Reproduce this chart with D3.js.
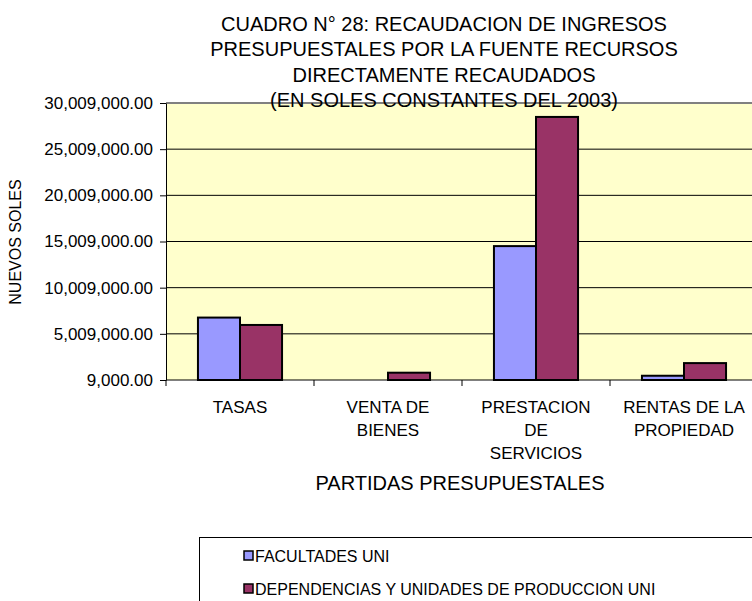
<!DOCTYPE html>
<html>
<head>
<meta charset="utf-8">
<script src="https://cdn.jsdelivr.net/npm/d3@7"></script>
<style>
  body { margin: 0; background: #fff; }
  text { font-family: Arial, "Liberation Sans", sans-serif; fill: #000; }
</style>
</head>
<body>
<div id="chart"></div>
<script>
// data
let categories = [["TASAS"], ["VENTA DE", "BIENES"], ["PRESTACION", "DE", "SERVICIOS"], ["RENTAS DE LA", "PROPIEDAD"]];
let seriesNames = ["FACULTADES UNI", "DEPENDENCIAS Y UNIDADES DE PRODUCCION UNI"];
let facultades = [6770000, 0, 14510000, 470000];
let dependencias = [5970000, 800000, 28500000, 1840000];
let yTicks = [9000, 5009000, 10009000, 15009000, 20009000, 25009000, 30009000];
let titleLines = ["CUADRO N° 28: RECAUDACION DE INGRESOS", "PRESUPUESTALES POR LA FUENTE RECURSOS", "DIRECTAMENTE RECAUDADOS", "(EN SOLES CONSTANTES DEL 2003)"];
let colors = ["#9999FF", "#993366"];

let width = 752, height = 601;
let plot = {left: 166, top: 103, right: 758, bottom: 380};

let svg = d3.select("#chart")
    .append("svg")
    .attr("width", width)
    .attr("height", height);

let x = d3.scaleBand()
    .domain(d3.range(categories.length))
    .range([plot.left, plot.right]);

let xs = d3.scaleBand()
    .domain([0, 1])
    .range([0, x.bandwidth()])
    .paddingOuter(0.76);

let y = d3.scaleLinear()
    .domain([9000, 30009000])
    .range([plot.bottom, plot.top]);

// plot background
svg.append("rect")
    .attr("x", plot.left)
    .attr("y", plot.top)
    .attr("width", plot.right - plot.left)
    .attr("height", plot.bottom - plot.top)
    .style("fill", "#FFFFCC");

// gridlines
svg.append("g")
    .selectAll("line")
    .data(yTicks.slice(1, -1))
    .enter()
    .append("line")
    .attr("x1", plot.left)
    .attr("x2", plot.right)
    .attr("y1", d => y(d))
    .attr("y2", d => y(d))
    .style("stroke", "#000")
    .style("stroke-width", 1);

// top border
svg.append("line")
    .attr("x1", plot.left)
    .attr("x2", plot.right)
    .attr("y1", plot.top)
    .attr("y2", plot.top)
    .style("stroke", "#808080")
    .style("stroke-width", 2);

// bars
let rows = [];
categories.forEach(function (c, i) {
    rows.push({cat: i, s: 0, v: facultades[i]});
    rows.push({cat: i, s: 1, v: dependencias[i]});
});

svg.append("g")
    .selectAll("rect")
    .data(rows.filter(d => d.v > y.domain()[0]))
    .enter()
    .append("rect")
    .attr("x", d => x(d.cat) + xs(d.s))
    .attr("y", d => y(d.v))
    .attr("width", xs.bandwidth())
    .attr("height", d => plot.bottom - y(d.v))
    .style("fill", d => colors[d.s])
    .style("stroke", "#000")
    .style("stroke-width", 2);

// y axis
let yAxis = d3.axisLeft(y)
    .tickValues(yTicks)
    .tickFormat(d3.format(",.2f"))
    .tickSize(6)
    .tickSizeOuter(0);

let gy = svg.append("g")
    .attr("transform", "translate(" + plot.left + ",0)")
    .call(yAxis);
gy.select(".domain").style("stroke", "#000");
gy.selectAll("text")
    .attr("x", -13)
    .style("font-size", "17px");

// x axis
let gx = svg.append("g")
    .attr("transform", "translate(0," + plot.bottom + ")");
gx.append("line")
    .attr("x1", plot.left)
    .attr("x2", plot.right)
    .style("stroke", "#000");
gx.selectAll(".tick")
    .data(d3.range(categories.length + 1))
    .enter()
    .append("line")
    .attr("x1", d => plot.left + d * x.step())
    .attr("x2", d => plot.left + d * x.step())
    .attr("y2", 6)
    .style("stroke", "#000");

let catLabels = gx.selectAll(".cat")
    .data(categories)
    .enter()
    .append("text")
    .attr("class", "cat")
    .attr("text-anchor", "middle")
    .style("font-size", "17px");
catLabels.selectAll("tspan")
    .data((d, i) => d.map(t => ({t: t, i: i})))
    .enter()
    .append("tspan")
    .attr("x", d => x(d.i) + x.bandwidth() / 2)
    .attr("y", (d, j) => 33 + j * 23)
    .text(d => d.t);

// axis titles
svg.append("text")
    .attr("x", 460)
    .attr("y", 490)
    .attr("text-anchor", "middle")
    .style("font-size", "20px")
    .text("PARTIDAS PRESUPUESTALES");

svg.append("text")
    .attr("transform", "translate(21,242) rotate(-90)")
    .attr("text-anchor", "middle")
    .style("font-size", "16px")
    .text("NUEVOS SOLES");

// title
svg.append("g")
    .selectAll("text")
    .data(titleLines)
    .enter()
    .append("text")
    .attr("x", 444)
    .attr("y", (d, i) => 30.5 + i * 25.5)
    .attr("text-anchor", "middle")
    .style("font-size", "20px")
    .text(d => d);

// legend
let legend = svg.append("g");
legend.append("rect")
    .attr("x", 199.5)
    .attr("y", 537.5)
    .attr("width", 600)
    .attr("height", 100)
    .style("fill", "#fff")
    .style("stroke", "#000");

let li = legend.selectAll(".item")
    .data(seriesNames)
    .enter()
    .append("g")
    .attr("transform", (d, i) => "translate(244," + (556 + i * 33) + ")");
li.append("rect")
    .attr("x", 0)
    .attr("y", -5)
    .attr("width", 9)
    .attr("height", 9)
    .style("fill", (d, i) => colors[i])
    .style("stroke", "#000")
    .style("stroke-width", 1.5);
li.append("text")
    .attr("x", 11)
    .attr("y", 6)
    .style("font-size", "16px")
    .text(d => d);
</script>
</body>
</html>
